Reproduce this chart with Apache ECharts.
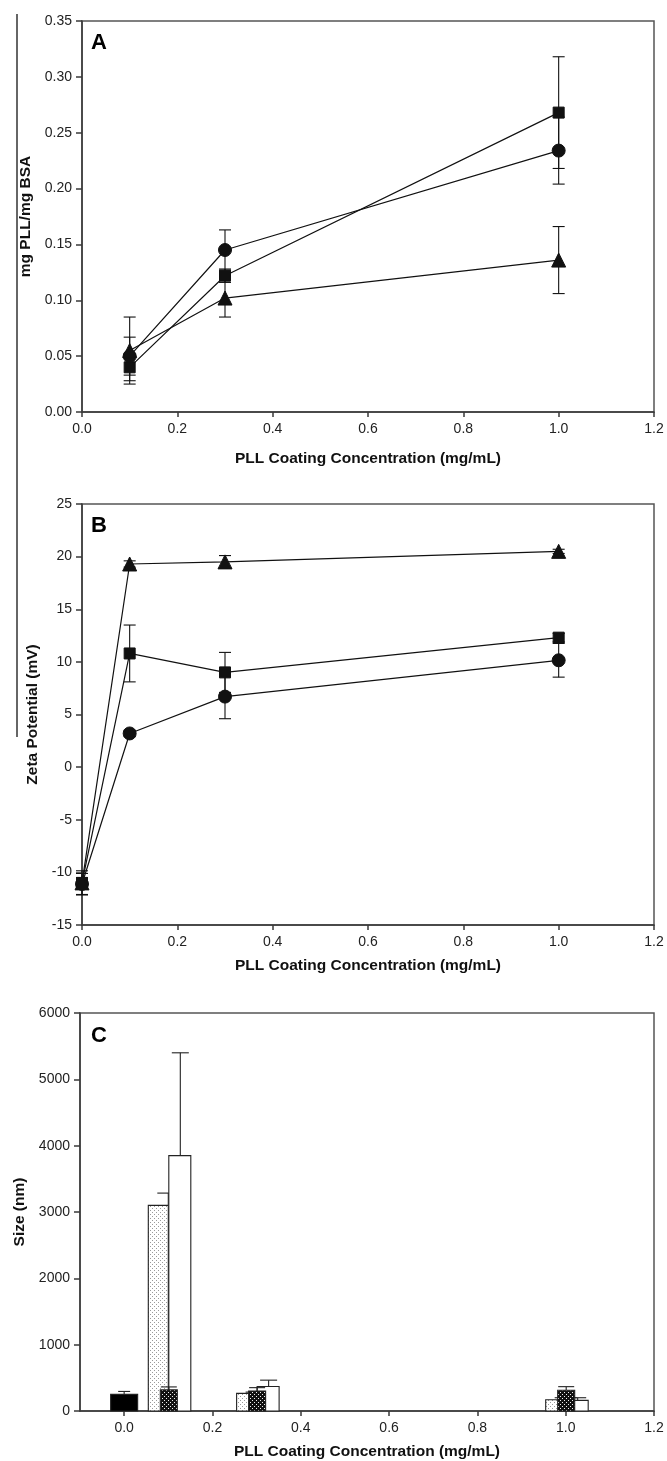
<!DOCTYPE html>
<html>
<head>
<meta charset="utf-8">
<script src="https://cdn.jsdelivr.net/npm/echarts@6/dist/echarts.min.js"></script>
<style>
  html, body { margin: 0; padding: 0; background: #fff; }
  #main { width: 667px; height: 1461px; }
</style>
</head>
<body>
<div id="main"></div>
<script>
// Panel A - mg PLL / mg BSA
const xA = [0.1, 0.3, 1.0];
const squareA = [0.040, 0.122, 0.268];
const squareAErr = [0.012, 0.006, 0.050];
const circleA = [0.050, 0.145, 0.234];
const circleAErr = [0.017, 0.018, 0.030];
const triangleA = [0.055, 0.102, 0.136];
const triangleAErr = [0.030, 0.017, 0.030];

// Panel B - zeta potential
const xB = [0, 0.1, 0.3, 1.0];
const squareB = [-11.0, 10.8, 9.0, 12.3];
const squareBErr = [0.5, 2.7, 1.9, 0.4];
const circleB = [-11.1, 3.2, 6.7, 10.15];
const circleBErr = [1.0, 0.3, 2.1, 1.6];
const triangleB = [-11.0, 19.3, 19.5, 20.5];
const triangleBErr = [1.15, 0.3, 0.6, 0.2];

// Panel C - size (bars, upper error only)
const xC = [0, 0.1, 0.3, 1.0];
const blackC = [250, null, null, null];
const blackCErr = [45, null, null, null];
const dottedC = [null, 3100, 265, 170];
const dottedCErr = [null, 185, 20, 30];
const whiteC = [null, 3850, 370, 160];
const whiteCErr = [null, 1550, 95, 40];
const darkC = [null, 318, 302, 312];
const darkCErr = [null, 45, 50, 55];
const xTicksC = [0, 0.2, 0.4, 0.6, 0.8, 1.0, 1.2];

const xName = 'PLL Coating Concentration (mg/mL)';
const ink = '#111';
const axisInk = '#3a3a3a';
const labelFont = { fontFamily: 'Liberation Sans, Arial, sans-serif', fontSize: 14, color: '#222' };
const nameFont = { fontFamily: 'Liberation Sans, Arial, sans-serif', fontSize: 15.5, fontWeight: 'bold', color: '#111' };

function pattern(bg, dot, dots) {
    const c = document.createElement('canvas');
    c.width = 4; c.height = 4;
    const g = c.getContext('2d');
    g.fillStyle = bg; g.fillRect(0, 0, 4, 4);
    g.fillStyle = dot;
    dots.forEach(p => g.fillRect(p[0], p[1], 1, 1));
    return { image: c, repeat: 'repeat' };
}
const dottedFill = pattern('#fff', '#9a9a9a', [[0, 0], [2, 2]]);
const darkFill = pattern('#111', '#eee', [[0, 0], [2, 2]]);

function zip(xs, ys, es) {
    const out = [];
    xs.forEach((x, i) => { if (ys[i] !== null) out.push([x, ys[i], es[i]]); });
    return out;
}

function xAxisOf(gi, name, gap, min, extra) {
    return Object.assign({
        type: 'value', gridIndex: gi, min: min, max: 1.2, interval: 0.2,
        name: name, nameLocation: 'middle', nameGap: gap, nameTextStyle: nameFont,
        axisLine: { show: true, onZero: false, lineStyle: { color: axisInk, width: 1.5 } },
        axisTick: { show: true, inside: false, length: 5, lineStyle: { color: axisInk, width: 1.5 } },
        axisLabel: Object.assign({ margin: 10, formatter: v => v.toFixed(1) }, labelFont),
        splitLine: { show: false }
    }, extra || {});
}

function yAxisOf(gi, name, gap, min, max, step, digits) {
    return {
        type: 'value', gridIndex: gi, min: min, max: max, interval: step,
        name: name, nameLocation: 'middle', nameGap: gap, nameTextStyle: nameFont,
        axisLine: { show: true, onZero: false, lineStyle: { color: axisInk, width: 1.5 } },
        axisTick: { show: true, inside: false, length: 6, lineStyle: { color: axisInk, width: 1.5 } },
        axisLabel: Object.assign({ margin: 10, formatter: v => v.toFixed(digits) }, labelFont),
        splitLine: { show: false }
    };
}

function lineSeries(gi, xs, ys, symbol, size) {
    return {
        type: 'line', xAxisIndex: gi, yAxisIndex: gi, z: 5, clip: false,
        data: xs.map((x, i) => [x, ys[i]]),
        symbol: symbol, symbolSize: size, showAllSymbol: true,
        lineStyle: { color: ink, width: 1.2 },
        itemStyle: { color: ink, borderColor: ink },
        emphasis: { disabled: true }, silent: true
    };
}

function errSeries(gi, xs, ys, es, cap) {
    return {
        type: 'custom', xAxisIndex: gi, yAxisIndex: gi, z: 3, silent: true, clip: false,
        data: zip(xs, ys, es),
        renderItem: function (params, api) {
            const x = api.value(0), y = api.value(1), e = api.value(2);
            const hi = api.coord([x, y + e]);
            const lo = api.coord([x, y - e]);
            const st = { stroke: ink, lineWidth: 1.1 };
            return {
                type: 'group', children: [
                    { type: 'line', shape: { x1: hi[0], y1: hi[1], x2: lo[0], y2: lo[1] }, style: st },
                    { type: 'line', shape: { x1: hi[0] - cap, y1: hi[1], x2: hi[0] + cap, y2: hi[1] }, style: st },
                    { type: 'line', shape: { x1: lo[0] - cap, y1: lo[1], x2: lo[0] + cap, y2: lo[1] }, style: st }
                ]
            };
        }
    };
}

// offset / width in px, error drawn at errOff px from group centre
function barSeries(ys, es, offset, width, fill, errOff, cap) {
    return {
        type: 'custom', xAxisIndex: 2, yAxisIndex: 2, silent: true, clip: false,
        data: zip(xC, ys, es),
        renderItem: function (params, api) {
            const x = api.value(0), v = api.value(1), e = api.value(2);
            const base = api.coord([x, 0]);
            const top = api.coord([x, v]);
            const up = api.coord([x, v + e]);
            const cx = base[0] + offset;
            const ex = base[0] + errOff;
            const st = { stroke: '#222', lineWidth: 1.1 };
            return {
                type: 'group', children: [
                    { type: 'line', shape: { x1: ex, y1: top[1], x2: ex, y2: up[1] }, style: st },
                    { type: 'line', shape: { x1: ex - cap, y1: up[1], x2: ex + cap, y2: up[1] }, style: st },
                    { type: 'rect', shape: { x: cx - width / 2, y: top[1], width: width, height: base[1] - top[1] },
                      style: { fill: fill, stroke: '#222', lineWidth: 1.1 } }
                ]
            };
        }
    };
}

const chart = echarts.init(document.getElementById('main'), null, { renderer: 'canvas' });
const panelTitle = { fontFamily: 'Liberation Sans, Arial, sans-serif', fontSize: 22, fontWeight: 'bold', color: '#000' };

chart.setOption({
    animation: false,
    backgroundColor: '#fff',
    title: [
        { text: 'A', left: 91, top: 32, padding: 0, textStyle: panelTitle },
        { text: 'B', left: 91, top: 515, padding: 0, textStyle: panelTitle },
        { text: 'C', left: 91, top: 1025, padding: 0, textStyle: panelTitle }
    ],
    graphic: [
        { type: 'line', shape: { x1: 17, y1: 14, x2: 17, y2: 737 }, style: { stroke: '#333', lineWidth: 1.5 }, silent: true }
    ],
    grid: [
        { left: 82, top: 21, width: 572, height: 391, show: true, borderColor: '#555', borderWidth: 1.5 },
        { left: 82, top: 504, width: 572, height: 421, show: true, borderColor: '#555', borderWidth: 1.5 },
        { left: 80, top: 1013, width: 574, height: 399, show: true, borderColor: '#555', borderWidth: 1.5 }
    ],
    xAxis: [
        xAxisOf(0, xName, 39, 0),
        xAxisOf(1, xName, 33, 0),
        xAxisOf(2, xName, 33, -0.1, {
            interval: null,
            axisTick: { show: true, inside: false, length: 5, customValues: xTicksC, lineStyle: { color: axisInk, width: 1.5 } },
            axisLabel: Object.assign({ margin: 10, customValues: xTicksC, formatter: v => v.toFixed(1) }, labelFont)
        })
    ],
    yAxis: [
        yAxisOf(0, 'mg PLL/mg BSA', 48, 0, 0.35, 0.05, 2),
        yAxisOf(1, 'Zeta Potential (mV)', 37, -15, 25, 5, 0),
        yAxisOf(2, 'Size (nm)', 48, 0, 6000, 1000, 0)
    ],
    series: [
        errSeries(0, xA, squareA, squareAErr, 6),
        errSeries(0, xA, circleA, circleAErr, 6),
        errSeries(0, xA, triangleA, triangleAErr, 6),
        lineSeries(0, xA, squareA, 'rect', 11),
        lineSeries(0, xA, circleA, 'circle', 13),
        lineSeries(0, xA, triangleA, 'triangle', 14),

        errSeries(1, xB, squareB, squareBErr, 6),
        errSeries(1, xB, circleB, circleBErr, 6),
        errSeries(1, xB, triangleB, triangleBErr, 6),
        lineSeries(1, xB, squareB, 'rect', 11),
        lineSeries(1, xB, circleB, 'circle', 13),
        lineSeries(1, xB, triangleB, 'triangle', 14),

        barSeries(blackC, blackCErr, 0, 27, '#000', 0, 6),
        barSeries(dottedC, dottedCErr, -10, 20, dottedFill, 0, 11),
        barSeries(whiteC, whiteCErr, 11.5, 22, '#fff', 12, 8.5),
        barSeries(darkC, darkCErr, 0.5, 17, darkFill, 0.5, 8)
    ]
});
</script>
</body>
</html>
